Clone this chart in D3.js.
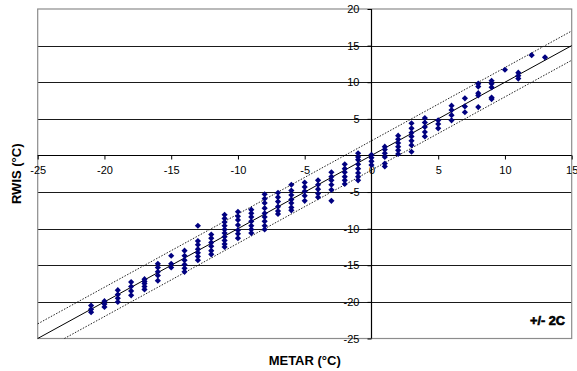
<!DOCTYPE html>
<html>
<head>
<meta charset="utf-8">
<script src="https://cdn.jsdelivr.net/npm/d3@7"></script>
<style>
  html, body { margin: 0; padding: 0; background: #fff; }
  svg { display: block; }
  text { font-family: "Liberation Sans", Arial, sans-serif; fill: #000; }
</style>
</head>
<body>
<svg id="chart" width="577" height="371"></svg>
<script>
// METAR air temperature (°C) for each column of observations
const metarTemps = [-21, -20, -19, -18, -17, -16, -15, -14, -13, -12, -11, -10, -9, -8, -7, -6, -5, -4, -3, -2, -1, 0, 1, 2, 3, 4, 5, 6, 7, 8, 9, 10, 11, 12, 13];

// Matching RWIS readings (°C), one list per METAR value
const rwisReadings = [
  [-20.5, -21, -21.4],
  [-19.9, -20.3, -20.7],
  [-18.4, -19, -19.5, -20],
  [-17.3, -17.9, -18.5, -19.1],
  [-16.9, -17.2, -17.5, -17.9, -18.3],
  [-14.8, -15.3, -15.9, -16.4, -17.1],
  [-13.7, -14.8, -15.3],
  [-13, -13.7, -14.3, -14.9, -15.4, -15.9],
  [-9.6, -11.7, -12.2, -12.8, -13.3, -13.8, -14.3],
  [-10.8, -11.3, -11.9, -12.4, -13, -13.5],
  [-8.1, -8.6, -9.1, -9.6, -10.1, -10.6, -11.1, -11.6, -12.1, -12.5],
  [-7.7, -8.3, -8.8, -9.5, -10.2, -10.7, -11.3],
  [-7.4, -7.9, -8.4, -9, -9.6, -10.1, -10.6],
  [-5.3, -5.9, -6.5, -7.2, -7.9, -8.4, -9, -9.6, -10.1],
  [-5.1, -5.7, -6.3, -7, -7.6, -8],
  [-4, -4.8, -5.4, -6, -6.5, -7.1, -7.5],
  [-3.7, -4.3, -4.9, -5.5, -6.2],
  [-3.4, -4, -4.6, -5.2, -5.7],
  [-2.3, -2.9, -3.4, -4, -4.7, -6.2],
  [-1.2, -1.8, -2.3, -2.9, -3.4, -3.9],
  [0.3, -0.2, -0.6, -1.2, -1.8, -2.4, -2.9, -3.4],
  [0.1, -0.3, -0.8, -1.3],
  [1.2, 0.8, 0.3, -0.2, -1.1, -1.5],
  [2.7, 2.2, 1.7, 1.2, 0.7, 0.2],
  [4.4, 3.7, 3.1, 2.6, 2, 1.4, 0.5],
  [5.1, 4.5, 3.9, 3.2, 2.6],
  [4.8, 4.3, 3.7],
  [6.8, 6.2, 5.5, 4.8],
  [7.8, 6.7, 5.9],
  [9.8, 9.4, 8.5, 8.2, 6.6],
  [10.2, 9.8, 9.3, 7.9, 7.7],
  [11.7],
  [11.3, 10.9, 10.5],
  [13.7],
  [13.4]
];

// Axis ranges and tick values
const xDomain = [-25, 15];
const yDomain = [-25, 20];
const xTicks = [-25, -20, -15, -10, -5, 0, 5, 10, 15];
const yTicks = [-25, -20, -15, -10, -5, 5, 10, 15, 20];
const yGrid = [-20, -15, -10, -5, 0, 5, 10, 15];

// Tolerance band around the 1:1 line (°C)
const tolerance = 2;
const toleranceLabel = "+/- 2C";

const xTitle = "METAR (°C)";
const yTitle = "RWIS (°C)";

const plot = { left: 37.7, right: 571.7, top: 9, bottom: 338.5 };

const svg = d3.select("#chart");
const x = d3.scaleLinear().domain(xDomain).range([plot.left, plot.right]);
const y = d3.scaleLinear().domain(yDomain).range([plot.bottom, plot.top]);
const plain = d => String(d);

svg.append("rect").attr("width", 577).attr("height", 371).attr("fill", "#fff");

// Horizontal gridlines
svg.append("g").selectAll("line").data(yGrid).join("line")
  .attr("x1", plot.left).attr("x2", plot.right)
  .attr("y1", d => Math.round(y(d)) + 0.5).attr("y2", d => Math.round(y(d)) + 0.5)
  .attr("stroke", "#1a1a1a").attr("stroke-width", 1);

// Plot area frame
svg.append("rect")
  .attr("x", plot.left).attr("y", plot.top)
  .attr("width", plot.right - plot.left).attr("height", plot.bottom - plot.top)
  .attr("fill", "none").attr("stroke", "#8c8c8c").attr("stroke-width", 1.2);

// 1:1 line and tolerance band
const line = d3.line().x(d => x(d[0])).y(d => y(d[1]));
const clampSeg = (offset) => {
  const x0 = Math.max(xDomain[0], yDomain[0] - offset);
  const x1 = Math.min(xDomain[1], yDomain[1] - offset);
  return [[x0, x0 + offset], [x1, x1 + offset]];
};
svg.append("path").attr("d", line(clampSeg(0)))
  .attr("fill", "none").attr("stroke", "#000").attr("stroke-width", 1);
[tolerance, -tolerance].forEach(off => {
  svg.append("path").attr("d", line(clampSeg(off)))
    .attr("fill", "none").attr("stroke", "#222").attr("stroke-width", 1)
    .attr("stroke-dasharray", "1.5,1.5");
});

// Axes crossing at the origin
const xAxis = svg.append("g")
  .attr("transform", `translate(0,${Math.round(y(0)) + 0.5})`)
  .call(d3.axisBottom(x).tickValues(xTicks).tickFormat(plain).tickSize(4).tickPadding(7).tickSizeOuter(0));
const yAxis = svg.append("g")
  .attr("transform", `translate(${Math.round(x(0)) + 0.5},0)`)
  .call(d3.axisLeft(y).tickValues(yTicks).tickFormat(plain).tickSize(4).tickPadding(8).tickSizeOuter(0));
[xAxis, yAxis].forEach(g => {
  g.select(".domain").attr("stroke", "#000").attr("stroke-width", 1.2);
  g.selectAll(".tick line").attr("stroke", "#000");
  g.selectAll(".tick text").attr("font-family", "Liberation Sans, Arial, sans-serif")
    .attr("font-size", 11).attr("fill", "#000");
});
yAxis.select(".domain").attr("d", `M0,${y(yDomain[1])}V${y(yDomain[0])}`);
xAxis.select(".domain").attr("d", `M${x(xDomain[0])},0H${x(xDomain[1])}`);

// Observations
const points = [];
metarTemps.forEach((m, i) => rwisReadings[i].forEach(r => points.push([m, r])));
const marker = d3.symbol().type(d3.symbolSquare).size(19);
svg.append("g").selectAll("path").data(points).join("path")
  .attr("d", marker)
  .attr("transform", d => `translate(${x(d[0])},${y(d[1])}) rotate(45)`)
  .attr("fill", "#000080");

// Axis titles
svg.append("text")
  .attr("x", (plot.left + plot.right) / 2).attr("y", 365)
  .attr("text-anchor", "middle").attr("font-size", 13).attr("font-weight", "bold")
  .text(xTitle);
svg.append("text")
  .attr("transform", `translate(21,${(plot.top + plot.bottom) / 2}) rotate(-90)`)
  .attr("text-anchor", "middle").attr("font-size", 13).attr("font-weight", "bold")
  .text(yTitle);

// Tolerance note
svg.append("text")
  .attr("x", 530).attr("y", 325)
  .attr("font-family", "Liberation Sans Narrow, Arial Narrow, sans-serif")
  .attr("font-size", 12).attr("font-weight", "bold")
  .attr("stroke", "#000").attr("stroke-width", 0.6)
  .attr("textLength", 35).attr("lengthAdjust", "spacingAndGlyphs")
  .text(toleranceLabel);
</script>
</body>
</html>
